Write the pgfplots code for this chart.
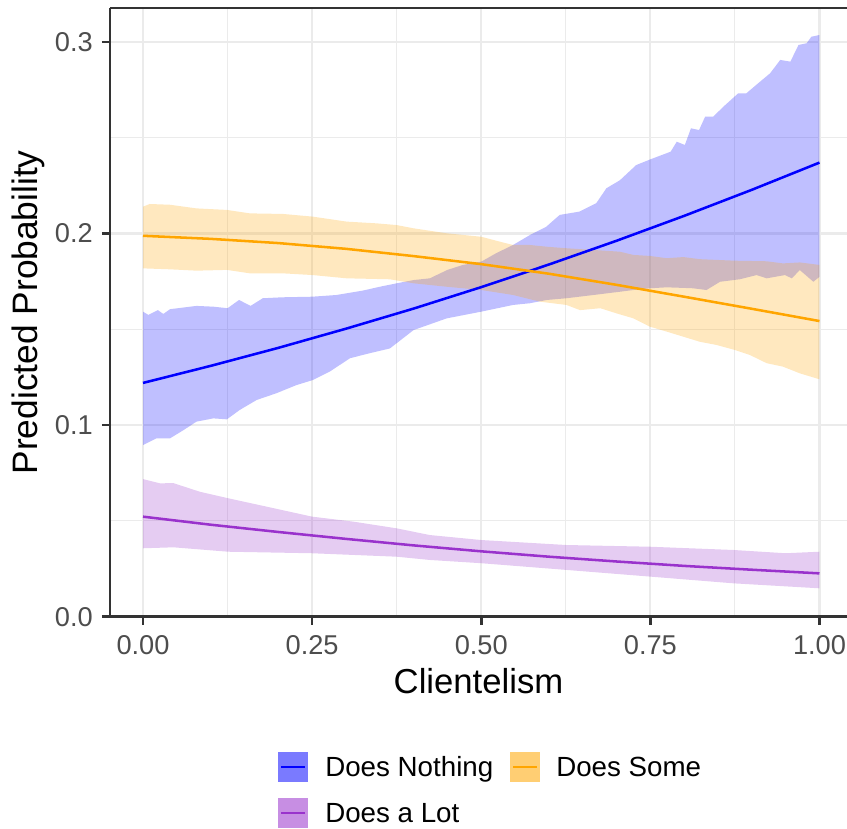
\documentclass[border=0pt]{standalone}
\usepackage{fontspec}
\setmainfont{Liberation Sans}
\usepackage{pgfplots}
\pgfplotsset{compat=1.18}
\usepgfplotslibrary{fillbetween}
\definecolor{cNothing}{RGB}{0,0,255}
\definecolor{cSome}{RGB}{255,165,0}
\definecolor{cLot}{RGB}{153,50,204}
\definecolor{axisgray}{RGB}{51,51,51}
\definecolor{tickgray}{RGB}{77,77,77}
\definecolor{gridgray}{RGB}{235,235,235}
\begin{document}
\begin{tikzpicture}
\begin{axis}[
  at={(0pt,0pt)}, anchor=south west,
  scale only axis, width=552.75pt, height=456.5pt,
  xmin=-0.0488, xmax=1.0407, ymin=0, ymax=0.3177,
  axis x line*=bottom, axis y line*=left,
  axis line style={axisgray, line width=2pt, -},
  xtick={0,0.25,0.5,0.75,1}, ytick={0,0.1,0.2,0.3},
  minor xtick={0.125,0.375,0.625,0.875}, minor ytick={0.05,0.15,0.25},
  grid=both,
  major grid style={gridgray, line width=1.65pt},
  minor grid style={gridgray, line width=0.8pt},
  tick align=outside,
  major tick length=6pt, minor tick length=0pt,
  tick style={axisgray, line width=2pt},
  /pgf/number format/assume math mode=true,
  tick label style={font=\fontsize{20.4}{24}\selectfont, text=tickgray, inner sep=0pt},
  x tick label style={/pgf/number format/fixed, /pgf/number format/fixed zerofill, /pgf/number format/precision=2, anchor=north, yshift=-7.75pt},
  y tick label style={/pgf/number format/fixed, /pgf/number format/fixed zerofill, /pgf/number format/precision=1, anchor=east, xshift=-6.75pt},
  xlabel={Clientelism},
  xlabel style={at={(axis description cs:0.5,0)}, anchor=base, yshift=-57.5pt, font=\fontsize{26}{30}\selectfont, inner sep=0pt},
  ylabel={Predicted Probability},
  ylabel style={at={(axis description cs:-0.1109,0.5)}, anchor=center, font=\fontsize{26.5}{30}\selectfont, inner sep=0pt},
]
% lines (drawn under ribbons)
\addplot[cNothing, line width=1.9pt] coordinates {
(0,0.1220) (0.1,0.1309) (0.2,0.1403) (0.3,0.1503) (0.4,0.1608) (0.5,0.1720)
(0.6,0.1838) (0.7,0.1962) (0.8,0.2092) (0.9,0.2228) (1,0.2370)};
\addplot[cSome, line width=1.9pt] coordinates {
(0,0.1988) (0.1,0.1972) (0.2,0.1950) (0.3,0.1920) (0.4,0.1882) (0.5,0.1840)
(0.6,0.1790) (0.7,0.1732) (0.8,0.1670) (0.9,0.1607) (1,0.1543)};
\addplot[cLot, line width=1.9pt] coordinates {
(0,0.0522) (0.1,0.0480) (0.2,0.0442) (0.3,0.0406) (0.4,0.0372) (0.5,0.0341)
(0.6,0.0313) (0.7,0.0288) (0.8,0.0265) (0.9,0.0245) (1,0.0226)};

% ribbon: Does Nothing
\addplot[name path=nU, draw=none] coordinates {
(0,0.1592) (0.008,0.1575) (0.022,0.1600) (0.030,0.1580) (0.040,0.1605) (0.079,0.1622)
(0.104,0.1618) (0.125,0.1610) (0.142,0.1653) (0.159,0.1622) (0.177,0.1662) (0.206,0.1667)
(0.250,0.1670) (0.286,0.1679) (0.325,0.1702) (0.350,0.1722) (0.375,0.1740) (0.400,0.1757)
(0.424,0.1766) (0.450,0.1810) (0.473,0.1836) (0.500,0.1853) (0.522,0.1897) (0.547,0.1940)
(0.572,0.1992) (0.596,0.2035) (0.616,0.2097) (0.645,0.2114) (0.670,0.2158) (0.685,0.2236)
(0.705,0.2278) (0.729,0.2357) (0.750,0.2387) (0.780,0.2427) (0.789,0.2479) (0.801,0.2462)
(0.810,0.2549) (0.822,0.2540) (0.831,0.2610) (0.843,0.2610) (0.858,0.2662) (0.880,0.2732)
(0.892,0.2732) (0.912,0.2792) (0.927,0.2836) (0.942,0.2906) (0.957,0.2897) (0.969,0.2984)
(0.981,0.2993) (0.988,0.3027) (1.000,0.3036)};
\addplot[name path=nL, draw=none] coordinates {
(0,0.0896) (0.020,0.0931) (0.040,0.0931) (0.060,0.0974) (0.079,0.1018) (0.104,0.1035)
(0.124,0.1030) (0.143,0.1079) (0.168,0.1131) (0.197,0.1166) (0.227,0.1209) (0.251,0.1235)
(0.276,0.1279) (0.306,0.1349) (0.335,0.1375) (0.365,0.1400) (0.400,0.1496) (0.449,0.1557)
(0.500,0.1592) (0.547,0.1627) (0.572,0.1636) (0.597,0.1653) (0.626,0.1662) (0.666,0.1679)
(0.705,0.1696) (0.725,0.1705) (0.749,0.1714) (0.774,0.1719) (0.799,0.1716) (0.813,0.1714)
(0.833,0.1705) (0.853,0.1748) (0.882,0.1761) (0.907,0.1783) (0.922,0.1766) (0.949,0.1783)
(0.959,0.1766) (0.971,0.1809) (0.991,0.1748) (1.000,0.1774)};
\addplot[fill=cNothing, fill opacity=0.25, draw=none] fill between[of=nU and nL];

% ribbon: Does Some
\addplot[name path=sU, draw=none] coordinates {
(0,0.2140) (0.010,0.2154) (0.040,0.2150) (0.079,0.2131) (0.124,0.2123) (0.158,0.2105)
(0.207,0.2102) (0.251,0.2088) (0.301,0.2062) (0.345,0.2053) (0.375,0.2044) (0.400,0.2027)
(0.449,0.2001) (0.500,0.1983) (0.528,0.1957) (0.547,0.1940) (0.572,0.1940) (0.597,0.1931)
(0.626,0.1923) (0.666,0.1914) (0.705,0.1905) (0.725,0.1888) (0.749,0.1883) (0.774,0.1871)
(0.799,0.1877) (0.823,0.1866) (0.875,0.1858) (0.922,0.1855) (0.946,0.1844) (0.971,0.1849)
(1.000,0.1836)};
\addplot[name path=sL, draw=none] coordinates {
(0,0.1818) (0.040,0.1813) (0.079,0.1806) (0.124,0.1810) (0.158,0.1792) (0.207,0.1792)
(0.251,0.1783) (0.301,0.1766) (0.365,0.1761) (0.400,0.1740) (0.449,0.1722) (0.500,0.1705)
(0.547,0.1679) (0.587,0.1644) (0.626,0.1627) (0.646,0.1600) (0.676,0.1610) (0.700,0.1583)
(0.725,0.1557) (0.749,0.1514) (0.774,0.1488) (0.799,0.1461) (0.823,0.1435) (0.848,0.1418)
(0.875,0.1392) (0.897,0.1366) (0.922,0.1323) (0.946,0.1305) (0.971,0.1270) (1.000,0.1239)};
\addplot[fill=cSome, fill opacity=0.25, draw=none] fill between[of=sU and sL];

% ribbon: Does a Lot
\addplot[name path=lU, draw=none] coordinates {
(0,0.0718) (0.025,0.0696) (0.045,0.0697) (0.084,0.0652) (0.126,0.0618) (0.183,0.0574)
(0.250,0.0522) (0.311,0.0496) (0.375,0.0461) (0.424,0.0426) (0.500,0.0400) (0.626,0.0374)
(0.750,0.0365) (0.873,0.0348) (0.950,0.0331) (1.000,0.0339)};
\addplot[name path=lL, draw=none] coordinates {
(0,0.0357) (0.045,0.0362) (0.126,0.0339) (0.250,0.0331) (0.375,0.0313) (0.424,0.0296)
(0.500,0.0279) (0.626,0.0244) (0.750,0.0209) (0.873,0.0174) (1.000,0.0148)};
\addplot[fill=cLot, fill opacity=0.25, draw=none] fill between[of=lU and lL];

\draw[axisgray, line width=2pt] (rel axis cs:0,1) -- (rel axis cs:1,1);
\end{axis}
% legend (1px = 0.75pt; axis lower-left at origin)
\begin{scope}[font=\fontsize{20.8}{24}\selectfont]
\fill[cNothing!52] (126pt,-124pt) rectangle (148.5pt,-101.5pt);
\draw[cNothing, line width=1.9pt] (128.25pt,-112.75pt) -- (146.25pt,-112.75pt);
\node[anchor=base west, inner sep=0pt] at (161.25pt,-120pt) {Does Nothing};
\fill[cSome!55] (300pt,-124pt) rectangle (322.5pt,-101.5pt);
\draw[cSome, line width=1.9pt] (302.25pt,-112.75pt) -- (320.25pt,-112.75pt);
\node[anchor=base west, inner sep=0pt] at (334.5pt,-120pt) {Does Some};
\fill[cLot!55] (126pt,-158.5pt) rectangle (148.5pt,-136pt);
\draw[cLot, line width=1.9pt] (128.25pt,-147.25pt) -- (146.25pt,-147.25pt);
\node[anchor=base west, inner sep=0pt] at (161.25pt,-154.5pt) {Does a Lot};
\end{scope}
\pgfresetboundingbox
\useasboundingbox (-82.5pt,-159.2pt) rectangle (552.75pt,462.5pt);
\end{tikzpicture}
\end{document}
